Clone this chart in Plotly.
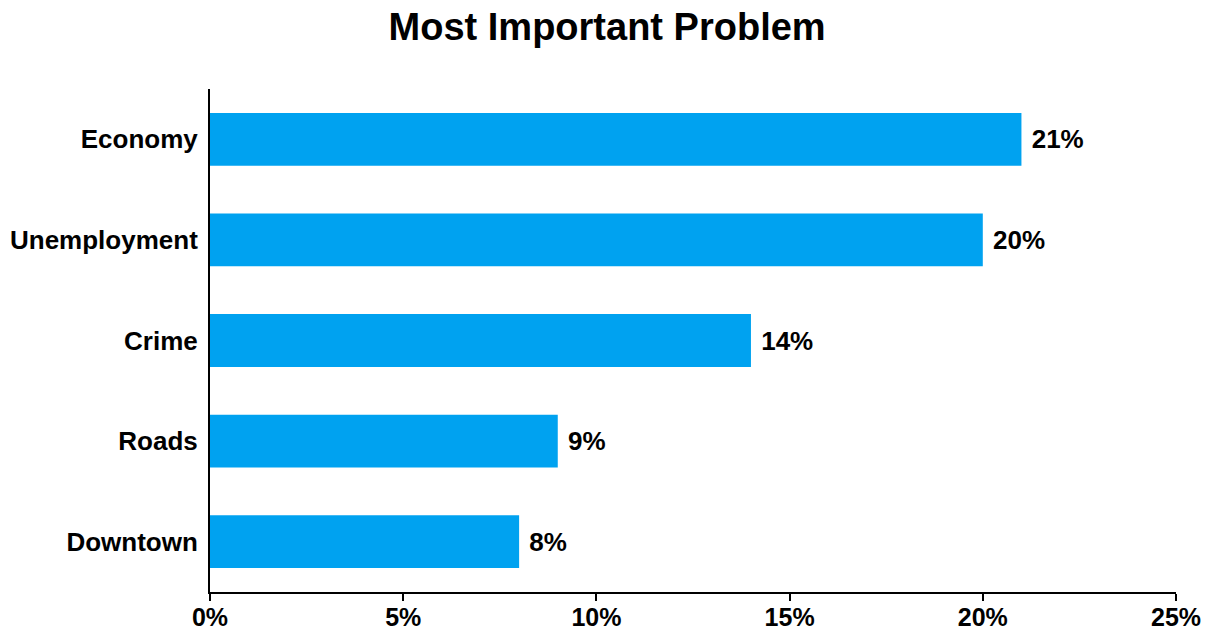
import plotly.graph_objects as go

categories = ["Economy", "Unemployment", "Crime", "Roads", "Downtown"]
values = [21, 20, 14, 9, 8]
x_ticks = [0, 5, 10, 15, 20, 25]
x_tick_labels = ["0%", "5%", "10%", "15%", "20%", "25%"]

FONT = "Liberation Sans, Arial, sans-serif"

fig = go.Figure(
    go.Bar(
        x=values,
        y=categories,
        orientation="h",
        marker=dict(color="#00A2F0", line=dict(width=0)),
        width=0.525,
        text=[f" {v}%" for v in values],
        textposition="outside",
        cliponaxis=False,
        textfont=dict(family=FONT, size=26, color="#000000", weight="bold"),
    )
)

fig.update_layout(
    width=1207,
    height=635,
    margin=dict(l=210, r=31, t=89, b=43),
    paper_bgcolor="white",
    plot_bgcolor="white",
    showlegend=False,
    title=dict(
        text="<b>Most Important Problem</b>",
        x=0.503,
        xanchor="center",
        y=1 - 27 / 635,
        yanchor="middle",
        yref="container",
        font=dict(family=FONT, size=38, color="#000000"),
    ),
    xaxis=dict(
        range=[0, 25],
        tickvals=x_ticks,
        ticktext=x_tick_labels,
        showgrid=False,
        zeroline=False,
        showline=True,
        linecolor="#000000",
        linewidth=2,
        ticks="outside",
        ticklen=7,
        tickwidth=1.5,
        tickcolor="#000000",
        automargin=False,
        ticklabelstandoff=-5,
        tickfont=dict(family=FONT, size=25, color="#000000", weight="bold"),
    ),
    yaxis=dict(
        categoryorder="array",
        categoryarray=categories[::-1],
        showgrid=False,
        zeroline=False,
        showline=True,
        linecolor="#000000",
        linewidth=2,
        ticks="",
        ticklabelstandoff=5,
        automargin=False,
        tickfont=dict(family=FONT, size=26, color="#000000", weight="bold"),
    ),
)

fig.write_html("out.html")
